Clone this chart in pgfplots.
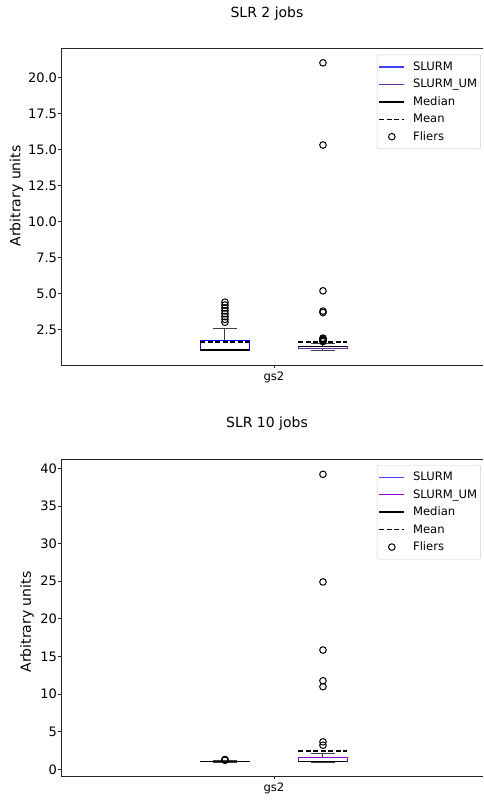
\documentclass[border=0pt]{standalone}
\usepackage{fontspec}
\setmainfont{DejaVu Sans}
\usepackage{pgfplots}
\usepackage{pgfplotstable}
\pgfplotsset{compat=1.18}
\usepgfplotslibrary{statistics}
\definecolor{slurm}{HTML}{0000FF}
\definecolor{slurmleg}{HTML}{4040FF}
\definecolor{umtop}{HTML}{6A2C9E}
\definecolor{umbot}{HTML}{9400D3}
\definecolor{legframe}{HTML}{CCCCCC}
\pgfplotsset{
  mybase/.style={
    scale only axis, width=422pt, height=317pt,
    xmin=-2.173, xmax=2.133,
    axis x line*=box, axis y line*=left,
    axis line style={-, line width=0.8pt, black!85},
    xtick={0}, xticklabels={gs2}, xtick pos=bottom, ytick pos=left,
    tick align=outside, major tick length=3.5pt,
    tick style={black!85, line width=0.8pt},
    /pgf/number format/assume math mode=true,
    yticklabel style={font=\fontsize{13}{15}\selectfont, xshift=3pt},
    xticklabel style={font=\fontsize{11.6}{13}\selectfont},
    legend cell align=left,
    legend image code/.code={\draw[##1] (0pt,0pt) -- (25pt,0pt);},
    boxplot/draw direction=y,
    boxplot/every median/.style={black, line width=1.5pt},
    boxplot/every whisker/.style={black!75, line width=1pt},
  },
  legbox/.style={legend style={at={(0.995,#1)}, anchor=north east, draw=legframe,
      rounded corners=2pt, font=\fontsize{11.6}{13}\selectfont,
      inner xsep=1.5pt, inner ysep=5pt, row sep=3.3pt}},
  flierleg/.style={legend image code/.code={\draw[##1] (12.5pt,0pt) circle[radius=3.3pt];}},
}
\pgfplotstableread{
x y
-0.5 4.40
-0.5 4.20
-0.5 4.00
-0.5 3.80
-0.5 3.60
-0.5 3.40
-0.5 3.20
-0.5 3.00
}\topA
\pgfplotstableread{
x y
0.5 21.05
0.5 15.33
0.5 5.19
0.5 3.78
0.5 3.68
0.5 1.90
0.5 1.84
0.5 1.78
0.5 1.72
0.5 1.66
}\topB
\pgfplotstableread{
x y
-0.5 1.30
-0.5 1.25
-0.5 1.20
}\botA
\pgfplotstableread{
x y
0.5 39.20
0.5 24.90
0.5 15.85
0.5 11.77
0.5 10.98
0.5 3.65
0.5 3.20
}\botB
\begin{document}
\begin{tikzpicture}
\path[use as bounding box] (0,0) rectangle (483pt,802pt);
% ---------------- top ----------------
\begin{axis}[mybase, at={(61pt,437pt)}, anchor=south west,
  ymin=0.03, ymax=22.08,
  ytick={2.5,5,7.5,10,12.5,15,17.5,20},
  yticklabel style={/pgf/number format/.cd, fixed, fixed zerofill, precision=1},
  legbox=0.979,
]
\addlegendimage{slurmleg, line width=1.3pt}
\addlegendentry{\hspace{6pt}SLURM}
\addlegendimage{umtop, line width=1.3pt}
\addlegendentry{\hspace{6pt}SLURM\_UM\hspace{9pt}}
\addlegendimage{black, line width=1.5pt}
\addlegendentry{\hspace{6pt}Median}
\addlegendimage{black, line width=1.5pt, dash pattern=on 5pt off 2.5pt}
\addlegendentry{\hspace{6pt}Mean}
\addlegendimage{flierleg, black, line width=1pt}
\addlegendentry{\hspace{6pt}Fliers}
\addplot[forget plot, draw=slurm, line width=1pt, boxplot prepared={lower whisker=1.02, lower quartile=1.07, median=1.09, upper quartile=1.72, upper whisker=2.55, draw position=-0.5, box extend=0.5, whisker extend=0.25}] coordinates {};
\addplot[forget plot, draw=umtop, line width=1pt, boxplot prepared={lower whisker=1.07, lower quartile=1.18, median=1.33, upper quartile=1.35, upper whisker=1.55, draw position=0.5, box extend=0.5, whisker extend=0.25}] coordinates {};
\addplot[forget plot, black, line width=1.5pt, dash pattern=on 5pt off 2.5pt] coordinates {(-0.75,1.63) (-0.25,1.63)};
\addplot[forget plot, black, line width=1.5pt, dash pattern=on 5pt off 2.5pt] coordinates {(0.25,1.63) (0.75,1.63)};
\addplot[forget plot, only marks, mark=o, mark size=3.3pt, black, line width=1pt] table[x=x, y=y] {\topA};
\addplot[forget plot, only marks, mark=o, mark size=3.3pt, black, line width=1pt] table[x=x, y=y] {\topB};
\end{axis}
% ---------------- bottom ----------------
\begin{axis}[mybase, at={(61pt,26pt)}, anchor=south west,
  ymin=-0.89, ymax=41.24,
  ytick={0,5,10,15,20,25,30,35,40},
  legbox=0.981,
]
\addlegendimage{slurmleg, line width=1.3pt}
\addlegendentry{\hspace{6pt}SLURM}
\addlegendimage{umbot, line width=1.3pt}
\addlegendentry{\hspace{6pt}SLURM\_UM\hspace{9pt}}
\addlegendimage{black, line width=1.5pt}
\addlegendentry{\hspace{6pt}Median}
\addlegendimage{black, line width=1.5pt, dash pattern=on 5pt off 2.5pt}
\addlegendentry{\hspace{6pt}Mean}
\addlegendimage{flierleg, black, line width=1pt}
\addlegendentry{\hspace{6pt}Fliers}
\addplot[forget plot, draw=slurm, line width=1pt, boxplot prepared={lower whisker=0.97, lower quartile=1.0, median=1.03, upper quartile=1.06, upper whisker=1.12, draw position=-0.5, box extend=0.5, whisker extend=0.25}] coordinates {};
\addplot[forget plot, draw=umbot, line width=1pt, boxplot prepared={lower whisker=0.95, lower quartile=0.98, median=1.02, upper quartile=1.60, upper whisker=2.10, draw position=0.5, box extend=0.5, whisker extend=0.25}] coordinates {};
\addplot[forget plot, black, line width=1.5pt, dash pattern=on 5pt off 2.5pt] coordinates {(-0.75,1.05) (-0.25,1.05)};
\addplot[forget plot, black, line width=1.5pt, dash pattern=on 5pt off 2.5pt] coordinates {(0.25,2.45) (0.75,2.45)};
\addplot[forget plot, only marks, mark=o, mark size=3.3pt, black, line width=1pt] table[x=x, y=y] {\botA};
\addplot[forget plot, only marks, mark=o, mark size=3.3pt, black, line width=1pt] table[x=x, y=y] {\botB};
\end{axis}
% titles and y labels
\node[font=\fontsize{14}{16}\selectfont, inner sep=0pt] at (267pt,788.5pt) {SLR 2 jobs};
\node[font=\fontsize{14}{16}\selectfont, inner sep=0pt] at (267pt,378.5pt) {SLR 10 jobs};
\node[font=\fontsize{14}{16}\selectfont, inner sep=0pt, rotate=90] at (16.5pt,606pt) {Arbitrary units};
\node[font=\fontsize{14}{16}\selectfont, inner sep=0pt, rotate=90] at (27pt,180pt) {Arbitrary units};
\end{tikzpicture}
\end{document}
